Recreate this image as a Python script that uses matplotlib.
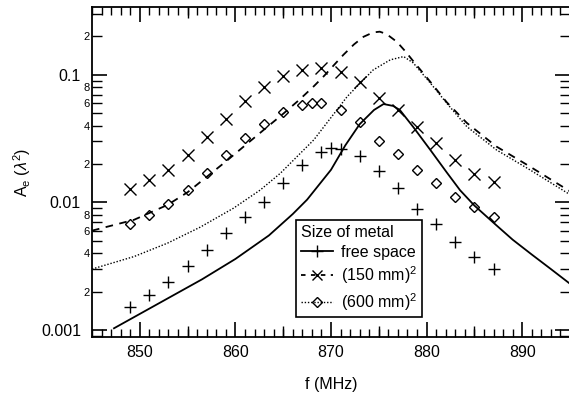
import numpy as np
import matplotlib
matplotlib.use("Agg")
import matplotlib.pyplot as plt
from matplotlib.lines import Line2D
from matplotlib.ticker import MultipleLocator, LogLocator, FuncFormatter

plt.rcParams["font.family"] = ["Liberation Sans", "DejaVu Sans"]
plt.rcParams["mathtext.fontset"] = "custom"
plt.rcParams["mathtext.rm"] = "Liberation Sans"
plt.rcParams["mathtext.it"] = "Liberation Sans:italic"

# Measured effective aperture (markers)
f_free = [849, 851, 853, 855, 857, 859, 861, 863, 865, 867, 869, 870, 871,
          873, 875, 877, 879, 881, 883, 885, 887]
ae_free = [0.00151, 0.00188, 0.00238, 0.00319, 0.00422, 0.0058, 0.00766, 0.0100,
           0.0143, 0.0198, 0.0248, 0.0269, 0.0263, 0.0232, 0.0175, 0.0129,
           0.00894, 0.00674, 0.00488, 0.00376, 0.00301]

f_150 = [849, 851, 853, 855, 857, 859, 861, 863, 865, 867, 869, 871, 873, 875,
         877, 879, 881, 883, 885, 887]
ae_150 = [0.01276, 0.01493, 0.0180, 0.0233, 0.0325, 0.0449, 0.0622, 0.0801,
          0.0982, 0.1094, 0.114, 0.105, 0.0873, 0.0657, 0.0531, 0.0393, 0.0291,
          0.02154, 0.01673, 0.01456]

f_600 = [849, 851, 853, 855, 857, 859, 861, 863, 865, 867, 868, 869, 871, 873,
         875, 877, 879, 881, 883, 885, 887]
ae_600 = [0.00674, 0.00798, 0.00973, 0.01254, 0.01694, 0.02345, 0.0322, 0.0415,
          0.0513, 0.0582, 0.0596, 0.0596, 0.0531, 0.0428, 0.0304, 0.0240, 0.0180,
          0.01415, 0.0111, 0.00927, 0.00765]

# Simulated curves
fs_free = [847.3, 853.0, 856.5, 860.0, 863.5, 866.0, 867.5, 870.0, 871.5, 873.0,
           874.5, 875.5, 876.5, 877.2, 878.6, 880.4, 882.1, 883.5, 885.0, 887.0,
           889.0, 891.0, 893.0, 895.0]
as_free = [0.00103, 0.00178, 0.00249, 0.0036, 0.0055, 0.0081, 0.0105, 0.018, 0.028,
           0.041, 0.053, 0.059, 0.057, 0.053, 0.039, 0.0257, 0.0172, 0.01245,
           0.00944, 0.00692, 0.0051, 0.0039, 0.0030, 0.0023]

fs_150 = [845.0, 849.4, 852.9, 855.0, 857.0, 859.0, 861.0, 863.0, 865.0, 866.7,
          868.2, 869.3, 870.3, 871.3, 872.4, 873.4, 874.4, 875.1, 875.8, 876.9,
          877.8, 878.6, 880.4, 882.1, 884.2, 887.3, 890.8, 895.0]
as_150 = [0.0060, 0.0073, 0.00955, 0.0120, 0.01585, 0.0209, 0.0279, 0.0372,
          0.0495, 0.0638, 0.0813, 0.0984, 0.119, 0.1435, 0.173, 0.1986, 0.2148,
          0.2178, 0.2089, 0.1811, 0.152, 0.128, 0.0879, 0.061, 0.042, 0.0274,
          0.0191, 0.0122]

fs_600 = [845.0, 849.4, 852.9, 856.3, 859.8, 862.6, 864.7, 868.2, 871.7, 874.4,
          876.2, 877.6, 878.6, 880.4, 882.1, 884.2, 887.3, 890.8, 895.0]
as_600 = [0.0030, 0.00376, 0.00479, 0.00638, 0.0090, 0.0125, 0.0169, 0.0309,
          0.0676, 0.109, 0.131, 0.139, 0.124, 0.086, 0.060, 0.0393, 0.0258, 0.018,
          0.0115]

labels = ["free space", "(150 mm)$^2$", "(600 mm)$^2$"]

fig = plt.figure(figsize=(5.69, 3.94), dpi=100)
ax = fig.add_axes([92 / 569, 57 / 394, 478 / 569, 330 / 394])

lw = 1.3
ax.plot(fs_free, as_free, color="black", lw=lw, ls="-")
ax.plot(fs_150, as_150, color="black", lw=lw, ls=(0, (4.2, 3.6)))
ax.plot(fs_600, as_600, color="black", lw=1.0, ls=(0, (1, 1.3)))

ax.plot(f_free, ae_free, ls="none", marker="+", ms=9, mew=1.0, color="black")
ax.plot(f_150, ae_150, ls="none", marker="x", ms=8, mew=1.0, color="black")
ax.plot(f_600, ae_600, ls="none", marker="D", ms=5.5, mew=1.0, mfc="none", mec="black")

ax.set_yscale("log")
ax.set_xlim(845, 895)
ax.set_ylim(0.00088, 0.34)

# x ticks: long every 10, medium at 5, short every 1
ax.xaxis.set_major_locator(MultipleLocator(10))
ax.xaxis.set_minor_locator(MultipleLocator(1))
ax.tick_params(axis="x", which="major", direction="in", length=11, width=1.2,
               top=True, labelsize=11.5, pad=6)
ax.tick_params(axis="x", which="minor", direction="in", length=5.5, width=1.0, top=True)
for side in ["bottom", "top"]:
    sec = ax.secondary_xaxis(side)
    sec.set_xticks([855, 865, 875, 885])
    sec.tick_params(direction="in", length=8, width=1.0, labelbottom=False, labeltop=False)
    sec.spines[side].set_visible(False)


def minor_label(v, pos):
    m = v / 10 ** np.floor(np.log10(v) + 1e-9)
    k = int(round(m))
    return str(k) if k in (2, 4, 6, 8) else ""


ax.yaxis.set_major_locator(LogLocator(base=10, numticks=10))
ax.yaxis.set_minor_locator(LogLocator(base=10, subs=np.arange(2, 10), numticks=20))
ax.yaxis.set_minor_formatter(FuncFormatter(minor_label))
ax.yaxis.set_major_formatter(FuncFormatter(lambda v, p: f"{v:g}"))
ax.tick_params(axis="y", which="major", direction="in", length=11, width=1.2,
               right=True, labelsize=11.5, pad=8)
ax.tick_params(axis="y", which="minor", direction="in", length=7, width=1.0,
               right=True, labelsize=8, pad=1.5)

for s in ax.spines.values():
    s.set_linewidth(1.3)

ax.set_xlabel("f (MHz)", fontsize=11.5, labelpad=12)
ax.set_ylabel(r"A$_\mathrm{e}$ ($\lambda^2$)", fontsize=11.5, labelpad=6)

handles = [
    Line2D([], [], color="black", lw=lw, ls="-", marker="+", ms=9, mew=1.0),
    Line2D([], [], color="black", lw=lw, ls=(0, (2.5, 3)), marker="x", ms=7, mew=1.0),
    Line2D([], [], color="black", lw=1.0, ls=(0, (1, 1.3)), marker="D", ms=5,
           mfc="none", mec="black"),
]
leg = ax.legend(handles, labels, title="Size of metal", loc="upper left",
                bbox_to_anchor=(296 / 569, 1 - 220 / 394), bbox_transform=fig.transFigure,
                borderaxespad=0, fontsize=11.5, title_fontsize=11.5, fancybox=False,
                framealpha=1, edgecolor="black", handlelength=2.0, handletextpad=0.5,
                labelspacing=0.3, borderpad=0.3)
leg._legend_box.align = "left"
leg.get_frame().set_linewidth(1.2)

fig.savefig("out.png", dpi=100)
